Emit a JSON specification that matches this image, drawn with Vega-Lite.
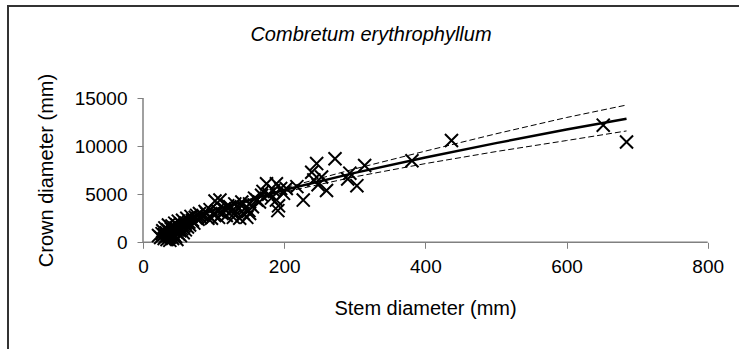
{
  "$schema": "https://vega.github.io/schema/vega-lite/v6.json",
  "width": 736,
  "height": 348,
  "autosize": {"type": "none"},
  "padding": {"left": 8, "top": 6, "right": 0, "bottom": 0},
  "background": "white",
  "config": {
    "view": {"stroke": "#333333", "strokeWidth": 2},
    "font": "Liberation Sans"
  },
  "title": {
    "text": "Combretum erythrophyllum",
    "font": "Liberation Sans",
    "fontSize": 20,
    "fontStyle": "italic",
    "fontWeight": "normal",
    "color": "black",
    "anchor": "middle",
    "frame": "group",
    "baseline": "alphabetic",
    "offset": -55,
    "dx": -5
  },
  "datasets": {
    "points": [
      {"stem_mm": 22, "crown_mm": 700}, {"stem_mm": 25, "crown_mm": 500}, {"stem_mm": 27, "crown_mm": 900}, {"stem_mm": 28, "crown_mm": 1200},
      {"stem_mm": 30, "crown_mm": 400}, {"stem_mm": 30, "crown_mm": 800}, {"stem_mm": 31, "crown_mm": 1500}, {"stem_mm": 32, "crown_mm": 600},
      {"stem_mm": 33, "crown_mm": 1000}, {"stem_mm": 34, "crown_mm": 300}, {"stem_mm": 35, "crown_mm": 1300}, {"stem_mm": 35, "crown_mm": 700},
      {"stem_mm": 36, "crown_mm": 1800}, {"stem_mm": 37, "crown_mm": 500}, {"stem_mm": 38, "crown_mm": 1100}, {"stem_mm": 38, "crown_mm": 200},
      {"stem_mm": 39, "crown_mm": 900}, {"stem_mm": 40, "crown_mm": 1400}, {"stem_mm": 40, "crown_mm": 600}, {"stem_mm": 41, "crown_mm": 1700},
      {"stem_mm": 42, "crown_mm": 1000}, {"stem_mm": 42, "crown_mm": 400}, {"stem_mm": 43, "crown_mm": 1300}, {"stem_mm": 44, "crown_mm": 800},
      {"stem_mm": 45, "crown_mm": 1500}, {"stem_mm": 45, "crown_mm": 2000}, {"stem_mm": 46, "crown_mm": 600}, {"stem_mm": 47, "crown_mm": 1100},
      {"stem_mm": 48, "crown_mm": 1800}, {"stem_mm": 48, "crown_mm": 300}, {"stem_mm": 49, "crown_mm": 1300}, {"stem_mm": 50, "crown_mm": 900},
      {"stem_mm": 50, "crown_mm": 2200}, {"stem_mm": 51, "crown_mm": 1600}, {"stem_mm": 52, "crown_mm": 1200}, {"stem_mm": 53, "crown_mm": 700},
      {"stem_mm": 54, "crown_mm": 1900}, {"stem_mm": 55, "crown_mm": 1400}, {"stem_mm": 56, "crown_mm": 2300}, {"stem_mm": 57, "crown_mm": 1000},
      {"stem_mm": 58, "crown_mm": 1700}, {"stem_mm": 60, "crown_mm": 2000}, {"stem_mm": 60, "crown_mm": 1300}, {"stem_mm": 62, "crown_mm": 2500},
      {"stem_mm": 63, "crown_mm": 1600}, {"stem_mm": 65, "crown_mm": 2100}, {"stem_mm": 66, "crown_mm": 1800}, {"stem_mm": 68, "crown_mm": 2700},
      {"stem_mm": 70, "crown_mm": 2300}, {"stem_mm": 72, "crown_mm": 2000}, {"stem_mm": 74, "crown_mm": 2600}, {"stem_mm": 76, "crown_mm": 2800},
      {"stem_mm": 78, "crown_mm": 2400}, {"stem_mm": 80, "crown_mm": 3000}, {"stem_mm": 82, "crown_mm": 2600}, {"stem_mm": 85, "crown_mm": 2800},
      {"stem_mm": 88, "crown_mm": 3200}, {"stem_mm": 90, "crown_mm": 3000}, {"stem_mm": 92, "crown_mm": 2500}, {"stem_mm": 95, "crown_mm": 3400},
      {"stem_mm": 97, "crown_mm": 2500}, {"stem_mm": 100, "crown_mm": 2900}, {"stem_mm": 102, "crown_mm": 4300}, {"stem_mm": 105, "crown_mm": 3300},
      {"stem_mm": 107, "crown_mm": 2600}, {"stem_mm": 109, "crown_mm": 4400}, {"stem_mm": 112, "crown_mm": 3000}, {"stem_mm": 115, "crown_mm": 3500},
      {"stem_mm": 118, "crown_mm": 2800}, {"stem_mm": 120, "crown_mm": 3800}, {"stem_mm": 123, "crown_mm": 3700}, {"stem_mm": 125, "crown_mm": 3200},
      {"stem_mm": 128, "crown_mm": 2600}, {"stem_mm": 130, "crown_mm": 4000}, {"stem_mm": 132, "crown_mm": 3200}, {"stem_mm": 135, "crown_mm": 3600},
      {"stem_mm": 137, "crown_mm": 2500}, {"stem_mm": 140, "crown_mm": 4200}, {"stem_mm": 142, "crown_mm": 3000}, {"stem_mm": 144, "crown_mm": 3500},
      {"stem_mm": 147, "crown_mm": 2600}, {"stem_mm": 150, "crown_mm": 3300}, {"stem_mm": 151, "crown_mm": 4000}, {"stem_mm": 151, "crown_mm": 3000},
      {"stem_mm": 155, "crown_mm": 3700}, {"stem_mm": 158, "crown_mm": 4600}, {"stem_mm": 161, "crown_mm": 4400}, {"stem_mm": 165, "crown_mm": 4200},
      {"stem_mm": 168, "crown_mm": 4900}, {"stem_mm": 170, "crown_mm": 5300}, {"stem_mm": 175, "crown_mm": 6100}, {"stem_mm": 178, "crown_mm": 5000},
      {"stem_mm": 182, "crown_mm": 4600}, {"stem_mm": 185, "crown_mm": 5400}, {"stem_mm": 189, "crown_mm": 6100}, {"stem_mm": 189, "crown_mm": 4400},
      {"stem_mm": 191, "crown_mm": 3300}, {"stem_mm": 192, "crown_mm": 3800}, {"stem_mm": 195, "crown_mm": 5600}, {"stem_mm": 199, "crown_mm": 5100},
      {"stem_mm": 203, "crown_mm": 5600}, {"stem_mm": 218, "crown_mm": 5800}, {"stem_mm": 227, "crown_mm": 4400}, {"stem_mm": 239, "crown_mm": 7300},
      {"stem_mm": 242, "crown_mm": 6500}, {"stem_mm": 246, "crown_mm": 8200}, {"stem_mm": 248, "crown_mm": 6000}, {"stem_mm": 253, "crown_mm": 6800},
      {"stem_mm": 260, "crown_mm": 5400}, {"stem_mm": 272, "crown_mm": 8700}, {"stem_mm": 290, "crown_mm": 6600}, {"stem_mm": 293, "crown_mm": 7200},
      {"stem_mm": 303, "crown_mm": 5900}, {"stem_mm": 314, "crown_mm": 8000}, {"stem_mm": 381, "crown_mm": 8500}, {"stem_mm": 437, "crown_mm": 10600},
      {"stem_mm": 652, "crown_mm": 12200}, {"stem_mm": 685, "crown_mm": 10450}
    ],
    "axislines": [
      {"stem_mm": 0, "stem_mm_end": 800, "crown_mm": 0, "crown_mm_end": 0},
      {"stem_mm": 0, "stem_mm_end": 0, "crown_mm": 0, "crown_mm_end": 15000}
    ],
    "curves": [
      {"series": "fit", "stem_mm": 22, "crown_mm": 1170},
      {"series": "fit", "stem_mm": 50, "crown_mm": 2060},
      {"series": "fit", "stem_mm": 100, "crown_mm": 3350},
      {"series": "fit", "stem_mm": 200, "crown_mm": 5440},
      {"series": "fit", "stem_mm": 300, "crown_mm": 7230},
      {"series": "fit", "stem_mm": 400, "crown_mm": 8840},
      {"series": "fit", "stem_mm": 500, "crown_mm": 10330},
      {"series": "fit", "stem_mm": 600, "crown_mm": 11740},
      {"series": "fit", "stem_mm": 685, "crown_mm": 12880},
      {"series": "upper", "stem_mm": 22, "crown_mm": 1250},
      {"series": "upper", "stem_mm": 50, "crown_mm": 2150},
      {"series": "upper", "stem_mm": 100, "crown_mm": 3480},
      {"series": "upper", "stem_mm": 200, "crown_mm": 5650},
      {"series": "upper", "stem_mm": 300, "crown_mm": 7650},
      {"series": "upper", "stem_mm": 400, "crown_mm": 9500},
      {"series": "upper", "stem_mm": 500, "crown_mm": 11300},
      {"series": "upper", "stem_mm": 600, "crown_mm": 13000},
      {"series": "upper", "stem_mm": 685, "crown_mm": 14300},
      {"series": "lower", "stem_mm": 22, "crown_mm": 1090},
      {"series": "lower", "stem_mm": 50, "crown_mm": 1970},
      {"series": "lower", "stem_mm": 100, "crown_mm": 3220},
      {"series": "lower", "stem_mm": 200, "crown_mm": 5230},
      {"series": "lower", "stem_mm": 300, "crown_mm": 6820},
      {"series": "lower", "stem_mm": 400, "crown_mm": 8200},
      {"series": "lower", "stem_mm": 500, "crown_mm": 9450},
      {"series": "lower", "stem_mm": 600, "crown_mm": 10600},
      {"series": "lower", "stem_mm": 685, "crown_mm": 11600}
    ]
  },
  "encoding": {
    "x": {
      "field": "stem_mm",
      "type": "quantitative",
      "scale": {"domain": [-191.25, 851.4], "nice": false, "zero": false},
      "axis": {
        "title": "Stem diameter (mm)",
        "orient": "bottom",
        "offset": -111.7,
        "values": [0, 200, 400, 600, 800],
        "domain": false,
        "grid": false,
        "tickColor": "#808080",
        "tickSize": 6,
        "tickWidth": 1,
        "labelFont": "Liberation Sans",
        "labelFontSize": 19,
        "labelColor": "black",
        "labelPadding": 9,
        "labelFlush": false,
        "labelOverlap": false,
        "titleFont": "Liberation Sans",
        "titleFontSize": 20,
        "titleFontWeight": "normal",
        "titleColor": "black",
        "titleX": 417,
        "titleY": 72,
        "titleAlign": "center",
        "titleBaseline": "alphabetic"
      }
    },
    "y": {
      "field": "crown_mm",
      "type": "quantitative",
      "scale": {"domain": [-11635, 24615], "nice": false, "zero": false},
      "axis": {
        "title": "Crown diameter (mm)",
        "orient": "left",
        "offset": -135,
        "values": [0, 5000, 10000, 15000],
        "format": "d",
        "domain": false,
        "grid": false,
        "tickColor": "#808080",
        "tickSize": 6,
        "tickWidth": 1,
        "labelFont": "Liberation Sans",
        "labelFontSize": 19,
        "labelColor": "black",
        "labelPadding": 10,
        "labelFlush": false,
        "labelOverlap": false,
        "titleFont": "Liberation Sans",
        "titleFontSize": 20,
        "titleFontWeight": "normal",
        "titleColor": "black",
        "titleX": -97,
        "titleY": 164,
        "titleAngle": -90,
        "titleAlign": "center",
        "titleBaseline": "middle"
      }
    }
  },
  "layer": [
    {
      "data": {"name": "axislines"},
      "mark": {"type": "rule", "color": "#808080", "strokeWidth": 1.5},
      "encoding": {
        "x2": {"field": "stem_mm_end"},
        "y2": {"field": "crown_mm_end"}
      }
    },
    {
      "data": {"name": "points"},
      "mark": {"type": "point", "shape": "M-1,-1L1,1M-1,1L1,-1", "filled": false, "color": "black", "strokeWidth": 2, "size": 170, "opacity": 1}
    },
    {
      "data": {"name": "curves"},
      "transform": [{"filter": "datum.series === 'fit'"}],
      "mark": {"type": "line", "color": "black", "strokeWidth": 2.5}
    },
    {
      "data": {"name": "curves"},
      "transform": [{"filter": "datum.series !== 'fit'"}],
      "mark": {"type": "line", "color": "black", "strokeWidth": 1, "strokeDash": [6, 3]},
      "encoding": {"detail": {"field": "series", "type": "nominal"}}
    }
  ]
}
